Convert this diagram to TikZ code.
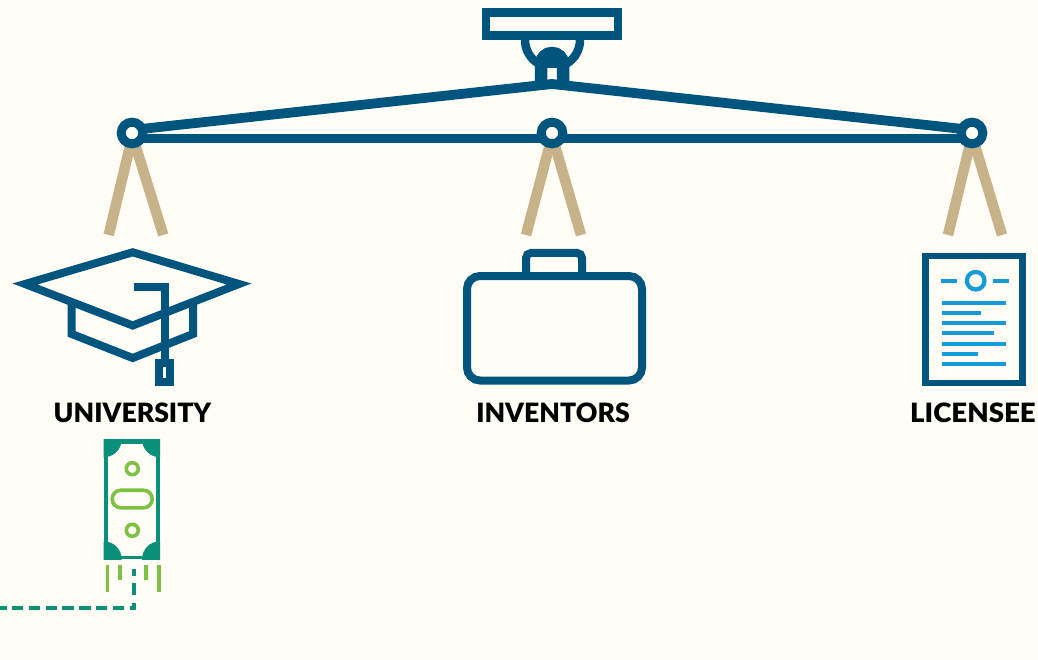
\documentclass[tikz,border=0pt]{standalone}
\usepackage{fontspec}
\setmainfont{Lato}
\newfontfamily\labelfont{Lato Black}
\definecolor{bgc}{HTML}{FFFDF6}
\definecolor{navy}{HTML}{00557F}
\definecolor{tan}{HTML}{C8B28A}
\definecolor{teal}{HTML}{0A8F79}
\definecolor{leaf}{HTML}{7DC242}
\definecolor{sky}{HTML}{149BDA}
\tikzset{
  beam/.style={draw=navy,line width=9.8pt},
  joint/.style={circle,draw=navy,fill=bgc,line width=9pt,minimum size=21.6pt,inner sep=0pt,outer sep=0pt},
  leg/.style={draw=tan,line width=10.5pt},
  icon/.style={draw=navy,line width=8pt,line join=miter},
  textline/.style={draw=sky,line width=4pt},
  greenline/.style={draw=leaf,line width=3.6pt},
  label/.style={font=\fontsize{26.6}{26.6}\selectfont\labelfont,text=black,inner sep=0pt,anchor=base},
}
\begin{document}
\begin{tikzpicture}[x=1pt,y=1pt]
\useasboundingbox (0,0) rectangle (1038,-660);
\fill[bgc] (0,0) rectangle (1038,-660);
% named points
\coordinate (apex) at (552,-84);
\coordinate (endL) at (132,-130);
\coordinate (endR) at (972,-130);
\coordinate (barL) at (132,-138.5);
\coordinate (barR) at (972,-138.5);
% legs
\coordinate (lla) at (130.5,-144); \coordinate (llb) at (108.7,-235);
\coordinate (lra) at (135,-144); \coordinate (lrb) at (163.3,-235);
\coordinate (mla) at (550,-144); \coordinate (mlb) at (526,-235);
\coordinate (mra) at (554.5,-144); \coordinate (mrb) at (581,-235);
\coordinate (rla) at (970,-144); \coordinate (rlb) at (948,-235);
\coordinate (rra) at (974.5,-144); \coordinate (rrb) at (1002,-235);
\foreach \a/\b in {lla/llb,lra/lrb,mla/mlb,mra/mrb,rla/rlb,rra/rrb}
  \draw[leg] (\a) -- (\b);
% hanger
\draw[navy,line width=8.5pt] (525,-40) arc[start angle=180,end angle=240,radius=27.5];
\draw[navy,line width=8.5pt] (580,-40) arc[start angle=0,end angle=-60,radius=27.5];
\draw[navy,line width=12.5pt] (541,-86) -- (541,-64) arc[start angle=180,end angle=0,radius=11] -- (563,-86);
\fill[navy] (546,-57) rectangle (558,-67.7);
% beam
\draw[beam,line join=miter] (endL) -- (apex) -- (endR);
\draw[beam] (barL) -- (barR);
\node[joint] (jl) at (132,-133) {};
\node[joint] (jm) at (552,-133) {};
\node[joint] (jr) at (972,-133) {};
% top plate
\draw[navy,line width=8.8pt,fill=bgc] (486,-12.3) rectangle (618,-35.8);
% cap
\draw[icon] (71.7,-302) -- (71.7,-334) -- (132.7,-358) -- (193,-334) -- (193,-302);
\draw[icon,fill=bgc,miter limit=10] (25,-284) -- (132.7,-252.3) -- (239,-284) -- (132.7,-325.5) -- cycle;
\draw[icon] (133.5,-287) -- (164.7,-287) -- (164.7,-360);
\draw[navy,line width=7.6pt,fill=bgc] (158.8,-363) rectangle (170.2,-381.7);
% briefcase
\draw[icon,rounded corners=5pt] (526,-276) -- (526,-253) -- (582,-253) -- (582,-276);
\draw[icon,rounded corners=13pt] (467,-276) rectangle (642,-380.5);
% licence
\draw[navy,line width=6.2pt] (925.5,-256) rectangle (1022.5,-383);
\draw[sky,line width=4.2pt] (975.7,-280.7) circle[radius=8.8];
\draw[sky,line width=4.2pt] (940.7,-280.7) -- (956.7,-280.7);
\draw[sky,line width=4.2pt] (993.3,-280.7) -- (1009.3,-280.7);
\foreach \yy/\xx in {302.7/1006.3,313/981,323/1006.3,333.3/994,343.7/1006.3,353.7/978.3,364/1006.3}
  \draw[textline] (941.7,-\yy) -- (\xx,-\yy);
% labels
\node[label] (ulabel) at (132.5,-422) {UNIVERSITY};
\node[label] (ilabel) at (553,-422) {INVENTORS};
\node[label,xscale=1.04] (llabel) at (973,-422) {LICENSEE};
% banknote
\fill[teal] (103.7,-439.3) rectangle (160,-559.3);
\fill[bgc] (108,-443.6) rectangle (156.2,-555.6);
\begin{scope}
\clip (103.7,-439.3) rectangle (160,-559.3);
\foreach \cx/\cy in {103.7/439.3,160/439.3,103.7/559.3,160/559.3}
  \fill[teal] (\cx,-\cy) circle[radius=18];
\end{scope}
\draw[leaf,line width=3.6pt] (132.3,-468.7) circle[radius=6];
\draw[leaf,line width=3.6pt] (132.3,-530.3) circle[radius=6];
\draw[leaf,line width=3.6pt,rounded corners=8.7pt] (112.2,-490.2) rectangle (152.2,-507.8);
\foreach \xx/\yy in {107.3/592.3,120/580,146/580,159/592.3}
  \draw[greenline] (\xx,-565.3) -- (\xx,-\yy);
% money flow
\coordinate (flowTop) at (134.3,-569.3);
\coordinate (flowBend) at (134.3,-608.3);
\coordinate (flowEnd) at (0,-608.3);
\draw[teal,line width=4pt,miter limit=10,dash pattern=on 6.4pt off 7.6pt on 11.7pt off 7.7pt on 10pt off 5.7pt on 11.5pt off 5.3pt on 11.5pt off 5.3pt on 11.5pt off 5.3pt on 11.5pt off 5.3pt on 11.5pt off 5.3pt on 11.5pt off 5.3pt on 11.5pt off 5.3pt on 11.5pt off 5.3pt]
  (flowTop) -- (flowBend) -- (flowEnd);
\end{tikzpicture}
\end{document}
